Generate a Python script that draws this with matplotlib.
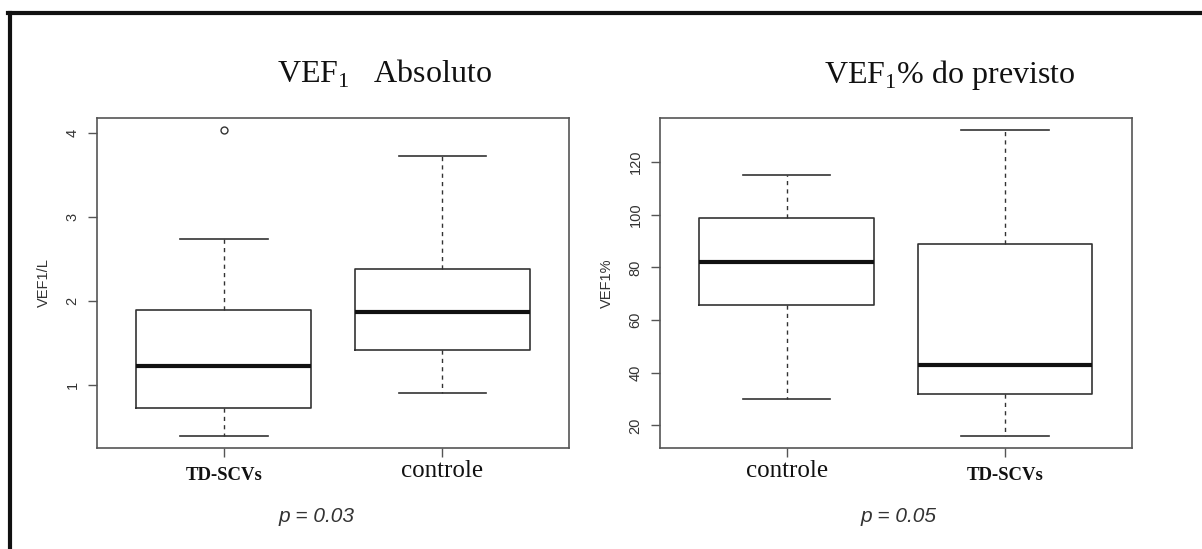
"""Boxplots do VEF1: absoluto (L) e % do previsto."""
import matplotlib

matplotlib.use("Agg")
import matplotlib.pyplot as plt
from matplotlib.lines import Line2D

# --- dados ------------------------------------------------------------------
# VEF1 absoluto (L)
grupos_abs = ["TD-SCVs", "controle"]
abs_whislo = [0.40, 0.91]
abs_q1 = [0.73, 1.42]
abs_med = [1.23, 1.87]
abs_q3 = [1.89, 2.38]
abs_whishi = [2.74, 3.73]
abs_fliers = [[4.04], []]
abs_ticks = [1, 2, 3, 4]

# VEF1 % do previsto
grupos_pct = ["controle", "TD-SCVs"]
pct_whislo = [30.0, 15.8]
pct_q1 = [65.6, 32.0]
pct_med = [82.0, 42.9]
pct_q3 = [98.6, 89.0]
pct_whishi = [115.1, 132.0]
pct_fliers = [[], []]
pct_ticks = [20, 40, 60, 80, 100, 120]

p_valores = ["p = 0.03", "p = 0.05"]

plt.rcParams["mathtext.fontset"] = "custom"
plt.rcParams["mathtext.rm"] = "Liberation Serif"

W, H = 1202, 549
fig = plt.figure(figsize=(W / 100, H / 100), dpi=100)

GRAY = "#555555"
DARK = "#333333"


def stats(labels, lo, q1, med, q3, hi, fliers):
    return [
        dict(label=l, whislo=a, q1=b, med=c, q3=d, whishi=e, fliers=f)
        for l, a, b, c, d, e, f in zip(labels, lo, q1, med, q3, hi, fliers)
    ]


def desenhar(ax, st, ylim, yticks, ylabel):
    ax.bxp(
        st,
        positions=[1, 2],
        widths=0.8,
        capwidths=0.4,
        boxprops=dict(color=DARK, linewidth=1.2),
        medianprops=dict(color="#111111", linewidth=3.0, solid_capstyle="butt"),
        whiskerprops=dict(color=DARK, linewidth=1.0, linestyle=(0, (3, 3))),
        capprops=dict(color=DARK, linewidth=1.2),
        flierprops=dict(marker="o", markerfacecolor="none",
                        markeredgecolor=DARK, markersize=5, markeredgewidth=1.0),
    )
    ax.set_xlim(0.42, 2.58)
    ax.set_ylim(*ylim)
    ax.set_yticks(yticks)
    ax.set_yticklabels([str(t) for t in yticks], rotation=90, va="center",
                       fontsize=10.5, color=DARK, family="Liberation Sans")
    for s in ax.spines.values():
        s.set_color(GRAY)
        s.set_linewidth(1.2)
    ax.tick_params(axis="both", color=GRAY, length=6.5, width=1.0)
    ax.tick_params(axis="y", pad=6)
    ax.set_ylabel(ylabel, fontsize=10.5, color=DARK, family="Liberation Sans")
    ax.yaxis.set_label_coords(-0.097, 0.5)
    # rotulos do eixo x: "TD-SCVs" em negrito menor, "controle" normal maior
    for lab, tick in zip(ax.get_xticklabels(), ax.xaxis.get_major_ticks()):
        lab.set_family("Liberation Serif")
        lab.set_color("#111111")
        if lab.get_text() == "TD-SCVs":
            lab.set_fontsize(13.5)
            lab.set_fontweight("bold")
            tick.set_pad(7)
        else:
            lab.set_fontsize(18)
            tick.set_pad(2)


ax1 = fig.add_axes([97 / W, 1 - 448 / H, (569.3 - 97) / W, 330 / H])
desenhar(ax1, stats(grupos_abs, abs_whislo, abs_q1, abs_med, abs_q3,
                    abs_whishi, abs_fliers),
         (0.254, 4.18), abs_ticks, "VEF1/L")

ax2 = fig.add_axes([660 / W, 1 - 448 / H, (1131.7 - 660) / W, 330 / H])
desenhar(ax2, stats(grupos_pct, pct_whislo, pct_q1, pct_med, pct_q3,
                    pct_whishi, pct_fliers),
         (11.4, 136.7), pct_ticks, "VEF1%")

# titulos
fig.text(385 / W, 1 - 83 / H, "VEF$_{1}$   Absoluto", ha="center", va="baseline",
         fontsize=23, family="Liberation Serif", color="#111111")
fig.text(950 / W, 1 - 83 / H, "VEF$_{1}$% do previsto", ha="center", va="baseline",
         fontsize=23, family="Liberation Serif", color="#111111")

# valores de p
for xc, txt in zip([317, 899], p_valores):
    fig.text(xc / W, 1 - 522 / H, txt, ha="center", va="baseline", fontsize=15,
             style="italic", family="Liberation Sans", color=DARK)

# moldura externa (somente topo e esquerda, como no recorte)
fig.add_artist(Line2D([8 / W, 1], [1 - 13 / H, 1 - 13 / H], transform=fig.transFigure,
                      color="#111111", linewidth=3))
fig.add_artist(Line2D([10 / W, 10 / W], [0, 1 - 13 / H], transform=fig.transFigure,
                      color="#111111", linewidth=3))

fig.savefig("out.png", dpi=100)
plt.close(fig)
